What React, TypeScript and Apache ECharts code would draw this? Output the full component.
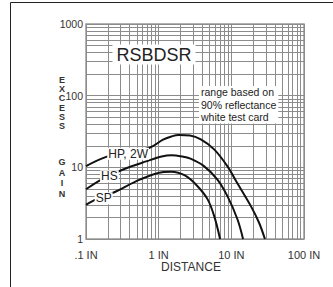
import React, { useEffect, useRef } from "react";
import * as echarts from "echarts";

const FONT = '"Liberation Sans", Arial, Helvetica, sans-serif';

// axis ticks / labels
const xTickValues = [0.1, 1, 10, 100];
const xTickLabels = [".1 IN", "1 IN", "10 IN", "100 IN"];
const yTickValues = [1, 10, 100, 1000];
const yTickLabels = ["1", "10", "100", "1000"];
const gridMultipliers = [2, 3, 4, 5, 6, 7, 8, 9];

// HP, 2W curve
const hpDist = [0.1, 0.19, 0.38, 0.75, 1.15, 1.5, 1.9, 2.7, 3.8, 5.8, 8.8, 12, 18.5, 24, 29];
const hpGain = [10.4, 14, 16.2, 18.8, 24.3, 27, 28.3, 27.8, 24.5, 17.8, 10.4, 6.1, 2.9, 1.7, 1];

// HS curve
const hsDist = [0.1, 0.165, 0.33, 0.69, 1.1, 1.5, 2.1, 2.74, 4.2, 6.4, 8.8, 12.1, 14.5];
const hsGain = [4.95, 6.8, 9.4, 12.2, 14.2, 14.8, 14.2, 13.2, 10.4, 6.8, 4.0, 1.9, 1];

// SP curve
const spDist = [0.1, 0.14, 0.24, 0.56, 1.17, 1.5, 2.3, 3.4, 4.7, 5.8, 7];
const spGain = [3.0, 3.6, 4.45, 6.8, 8.6, 8.7, 7.7, 5.5, 3.6, 2.1, 1];

const seriesNames = ["HP, 2W", "HS", "SP"];
const labelDist = [0.38, 0.21, 0.175];
const labelGain = [15.5, 7.5, 3.7];

const titleText = "RSBDSR";
const noteLines = ["range based on", "90% reflectance", "white test card"];
const xAxisTitle = "DISTANCE";
const yAxisTitleTop = "EXCESS";
const yAxisTitleBottom = "GAIN";

function zip(xs: number[], ys: number[]) {
  return xs.map((x, i) => [x, ys[i]]);
}

export default function App() {
  const ref = useRef<HTMLDivElement>(null);

  useEffect(() => {
    document.body.style.margin = "0";
    if (!ref.current) return;
    const chart = echarts.init(ref.current, undefined, { renderer: "svg" });

    const xMinor: number[] = [];
    xTickValues.slice(0, 3).forEach((d) => gridMultipliers.forEach((m) => xMinor.push(+(d * m).toPrecision(6))));
    const yMinor: number[] = [];
    yTickValues.slice(0, 3).forEach((d) => gridMultipliers.forEach((m) => yMinor.push(+(d * m).toPrecision(6))));

    const curveData = [zip(hpDist, hpGain), zip(hsDist, hsGain), zip(spDist, spGain)];

    const curveSeries = curveData.map((data, i) => ({
      type: "line",
      name: seriesNames[i],
      data,
      smooth: 0.35,
      symbol: "none",
      showSymbol: false,
      z: 3,
      lineStyle: { color: "#111", width: 2 },
      markPoint: {
        z: 6,
        symbol: "rect",
        symbolSize: 1,
        itemStyle: { color: "rgba(0,0,0,0)" },
        label: {
          show: true,
          position: "inside",
          formatter: seriesNames[i],
          color: "#222",
          fontFamily: FONT,
          fontSize: 12,
          backgroundColor: "#fff",
          padding: [0, 1],
        },
        data: [{ coord: [labelDist[i], labelGain[i]] }],
      },
    }));

    const letterTexts = (word: string, top: number, step: number) =>
      word.split("").map((ch, i) => ({
        type: "text",
        z: 100,
        x: 62,
        y: top + i * step,
        style: {
          text: ch,
          font: `bold 9px ${FONT}`,
          fill: "#333",
          align: "center",
          verticalAlign: "middle",
        },
      }));

    const option: any = {
      animation: false,
      grid: {
        left: 86,
        right: 29,
        top: 24,
        bottom: 48,
        show: true,
        borderColor: "#999",
        borderWidth: 1.5,
      },
      xAxis: {
        type: "log",
        logBase: 10,
        min: 0.1,
        max: 100,
        axisLine: { show: false },
        axisTick: { show: false },
        splitLine: { show: true, lineStyle: { color: "#8c8c8c", width: 1 } },
        axisLabel: {
          margin: 10,
          color: "#333",
          fontFamily: FONT,
          fontSize: 11,
          formatter: (v: number) => {
            const idx = xTickValues.findIndex((t) => Math.abs(t - v) < t * 1e-6);
            return idx >= 0 ? xTickLabels[idx] : "";
          },
        },
      },
      yAxis: {
        type: "log",
        logBase: 10,
        min: 1,
        max: 1000,
        axisLine: { show: false },
        axisTick: { show: false },
        splitLine: { show: true, lineStyle: { color: "#8c8c8c", width: 1 } },
        axisLabel: {
          margin: 3,
          color: "#333",
          fontFamily: FONT,
          fontSize: 10.5,
          formatter: (v: number) => {
            const idx = yTickValues.findIndex((t) => Math.abs(t - v) < t * 1e-6);
            return idx >= 0 ? yTickLabels[idx] : "";
          },
        },
      },
      series: [
        {
          type: "line",
          data: [[0.1, 1]],
          symbol: "none",
          lineStyle: { opacity: 0 },
          silent: true,
          z: 1,
          markLine: {
            silent: true,
            z: 1,
            symbol: "none",
            label: { show: false },
            lineStyle: { color: "#8c8c8c", width: 1, type: "solid" },
            emphasis: { disabled: true },
            data: [
              ...xMinor.map((v) => ({ xAxis: v })),
              ...yMinor.map((v) => ({ yAxis: v })),
            ],
          },
        },
        ...curveSeries,
      ],
      graphic: [
        {
          type: "line",
          z: 100,
          shape: { x1: 10.5, y1: 2.5, x2: 333, y2: 2.5 },
          style: { stroke: "#222", lineWidth: 1 },
        },
        {
          type: "line",
          z: 100,
          shape: { x1: 10.5, y1: 2.5, x2: 10.5, y2: 287 },
          style: { stroke: "#222", lineWidth: 1 },
        },
        {
          type: "text",
          z: 100,
          x: 154,
          y: 54.5,
          style: {
            text: titleText,
            font: `18px ${FONT}`,
            fill: "#222",
            align: "center",
            verticalAlign: "middle",
            backgroundColor: "#fff",
            padding: [1, 4],
          },
        },
        {
          type: "text",
          z: 100,
          x: 199,
          y: 86,
          style: {
            text: noteLines.join("\n"),
            font: `10.5px ${FONT}`,
            lineHeight: 12.5,
            fill: "#222",
            align: "left",
            verticalAlign: "top",
            backgroundColor: "#fff",
            padding: [0, 2],
          },
        },
        ...letterTexts(yAxisTitleTop, 80, 9.2),
        ...letterTexts(yAxisTitleBottom, 162, 10.5),
        {
          type: "text",
          z: 100,
          x: 191,
          y: 267,
          style: {
            text: xAxisTitle,
            font: `12px ${FONT}`,
            fill: "#333",
            align: "center",
            verticalAlign: "middle",
          },
        },
      ],
    };

    chart.setOption(option);
    return () => chart.dispose();
  }, []);

  return <div ref={ref} style={{ width: 333, height: 287 }} />;
}
